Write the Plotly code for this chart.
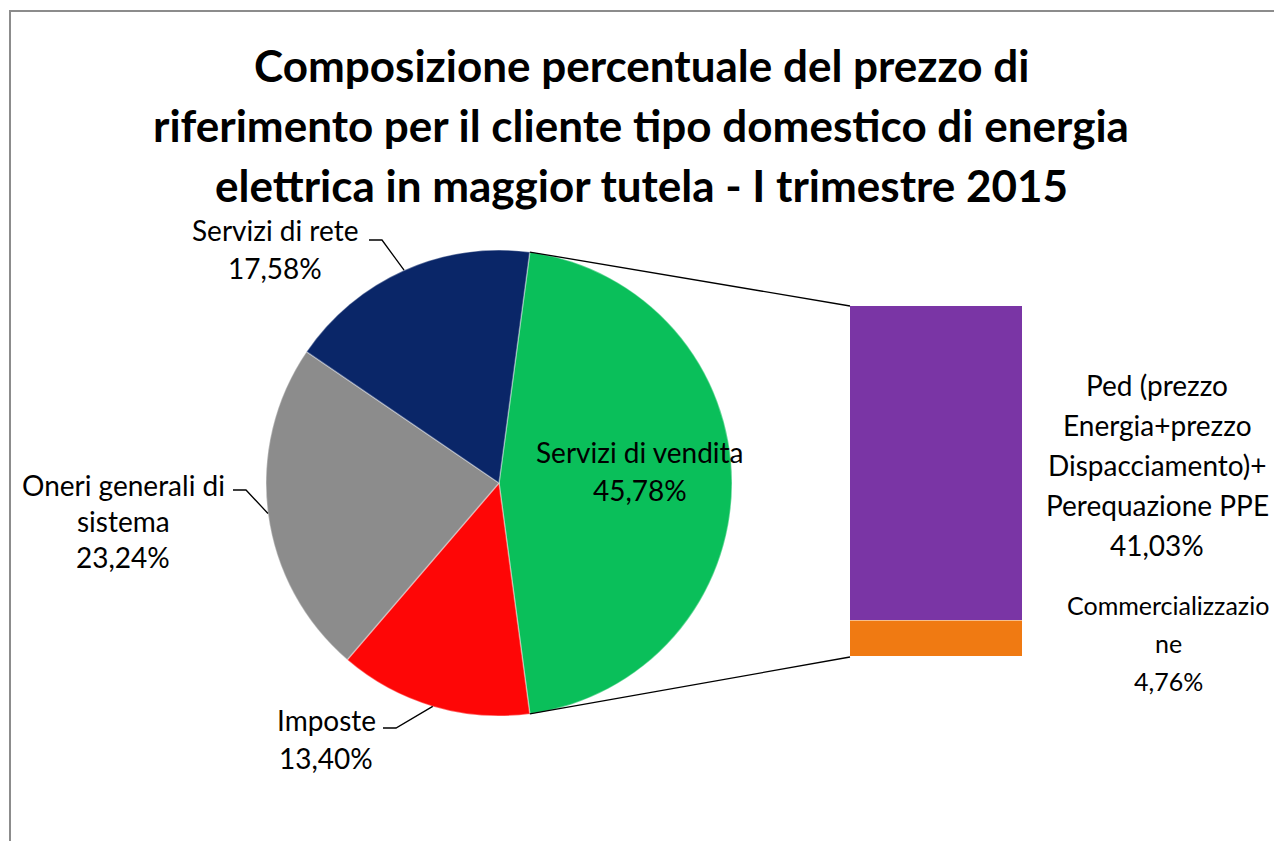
import math
import plotly.graph_objects as go

# page body has an 8px margin, so the figure is drawn 8px in from the corner
OFF = 8
W, H = 1282 - OFF, 841 - OFF

title_lines = ["Composizione percentuale del prezzo di",
               "riferimento per il cliente tipo domestico di energia",
               "elettrica in maggior tutela - I trimestre 2015"]

# pie: first slice is the one that gets split into the bar
pie_labels = ["Servizi di vendita", "Imposte", "Oneri generali di sistema", "Servizi di rete"]
pie_values = [45.78, 13.40, 23.24, 17.58]
pie_colors = ["#0ABF5A", "#FE0606", "#8C8C8C", "#0A2668"]
pie_text_lines = [["Servizi di vendita"], ["Imposte"], ["Oneri generali di", "sistema"],
                  ["Servizi di rete"]]

# bar of pie (bottom to top)
bar_labels = ["Commercializzazione",
              "Ped (prezzo Energia+prezzo Dispacciamento)+ Perequazione PPE"]
bar_values = [4.76, 41.03]
bar_colors = ["#F07A12", "#7A35A5"]
bar_text_lines = [["Commercializzazio", "ne"],
                  ["Ped (prezzo", "Energia+prezzo", "Dispacciamento)+", "Perequazione PPE"]]

FONT = "Lato"


def px(x):
    return (x - OFF) / W


def py(y):
    return 1 - (y - OFF) / H


def pct(v):
    return ("%.2f" % v).replace(".", ",") + "%"


# geometry in screen pixels
cx, cy, r = 499, 483, 233
bar_l, bar_r, bar_t, bar_b = 850, 1023, 306, 657

first_share = pie_values[0] / sum(pie_values) * 360
rotation = 90 - first_share / 2


def pie_point(angle):
    a = math.radians(angle)
    return cx + r * math.sin(a), cy - r * math.cos(a)


fig = go.Figure()

fig.add_trace(go.Pie(
    labels=pie_labels, values=pie_values, sort=False,
    direction="clockwise", rotation=rotation,
    marker=dict(colors=pie_colors, line=dict(color="rgba(255,255,255,0.35)", width=1.5)),
    textinfo="none", hoverinfo="label+percent", showlegend=False,
    domain=dict(x=[px(cx - r), px(cx + r)], y=[py(cy + r), py(cy - r)]),
))

for lab, val, col in zip(bar_labels, bar_values, bar_colors):
    fig.add_trace(go.Bar(
        x=[0], y=[val], name=lab, marker_color=col, width=1,
        marker_line=dict(color="rgba(255,255,255,0.3)", width=1.5),
        showlegend=False, hoverinfo="name+y",
    ))

annotations = []


def text_block(lines, xc, y0, pitch=38, size=28):
    for i, t in enumerate(lines):
        annotations.append(dict(
            x=px(xc), y=py(y0 + i * pitch), xref="paper", yref="paper",
            text=t, showarrow=False, xanchor="center", yanchor="middle",
            font=dict(family=FONT, size=size, color="black")))


# title
for i, t in enumerate(title_lines):
    annotations.append(dict(
        x=px(641), y=py(65 + i * 60), xref="paper", yref="paper", text="<b>%s</b>" % t,
        showarrow=False, xanchor="center", yanchor="middle",
        font=dict(family=FONT, size=44, color="black")))

# pie labels
text_block(pie_text_lines[0] + [pct(pie_values[0])], 640, 452)
text_block(pie_text_lines[1] + [pct(pie_values[1])], 326, 720)
text_block(pie_text_lines[2] + [pct(pie_values[2])], 123, 485, pitch=36)
text_block(pie_text_lines[3] + [pct(pie_values[3])], 275, 230)

# bar labels
text_block(bar_text_lines[1] + [pct(bar_values[1])], 1157, 385, pitch=40)
text_block(bar_text_lines[0] + [pct(bar_values[0])], 1168, 605, size=25)

shapes = []

# leader lines for outside labels (horizontal stub -> slice mid point)
starts = [0]
for v in pie_values[:-1]:
    starts.append(starts[-1] + v)
mids = [rotation + (s + v / 2) / sum(pie_values) * 360 for s, v in zip(starts, pie_values)]
stubs = {1: (383, 728), 2: (233, 490), 3: (369, 240)}
for idx, (sx, sy) in stubs.items():
    ex, ey = pie_point(mids[idx])
    path = "M %f,%f L %f,%f L %f,%f" % (px(sx), py(sy), px(sx + 13), py(sy), px(ex), py(ey))
    shapes.append(dict(type="path", path=path, xref="paper", yref="paper",
                       line=dict(color="black", width=1.3)))

# connector lines pie -> bar
for ang, by in [(rotation, bar_t), (rotation + first_share, bar_b)]:
    ex, ey = pie_point(ang)
    shapes.append(dict(type="line", xref="paper", yref="paper",
                       x0=px(ex), y0=py(ey), x1=px(bar_l), y1=py(by),
                       line=dict(color="black", width=1.3)))

# chart area border
shapes.append(dict(type="rect", xref="paper", yref="paper",
                   x0=px(10), y0=-0.05, x1=1.05, y1=py(11),
                   line=dict(color="#8C8C8C", width=2), fillcolor="rgba(0,0,0,0)"))

fig.update_layout(
    width=W, height=H,
    margin=dict(l=0, r=0, t=0, b=0),
    paper_bgcolor="white", plot_bgcolor="white",
    barmode="stack", bargap=0,
    xaxis=dict(domain=[px(bar_l), px(bar_r)], range=[-0.5, 0.5], visible=False, fixedrange=True),
    yaxis=dict(domain=[py(bar_b), py(bar_t)], range=[0, sum(bar_values)], visible=False, fixedrange=True),
    annotations=annotations,
    shapes=shapes,
    font=dict(family=FONT),
)

fig.write_html("out.html")
